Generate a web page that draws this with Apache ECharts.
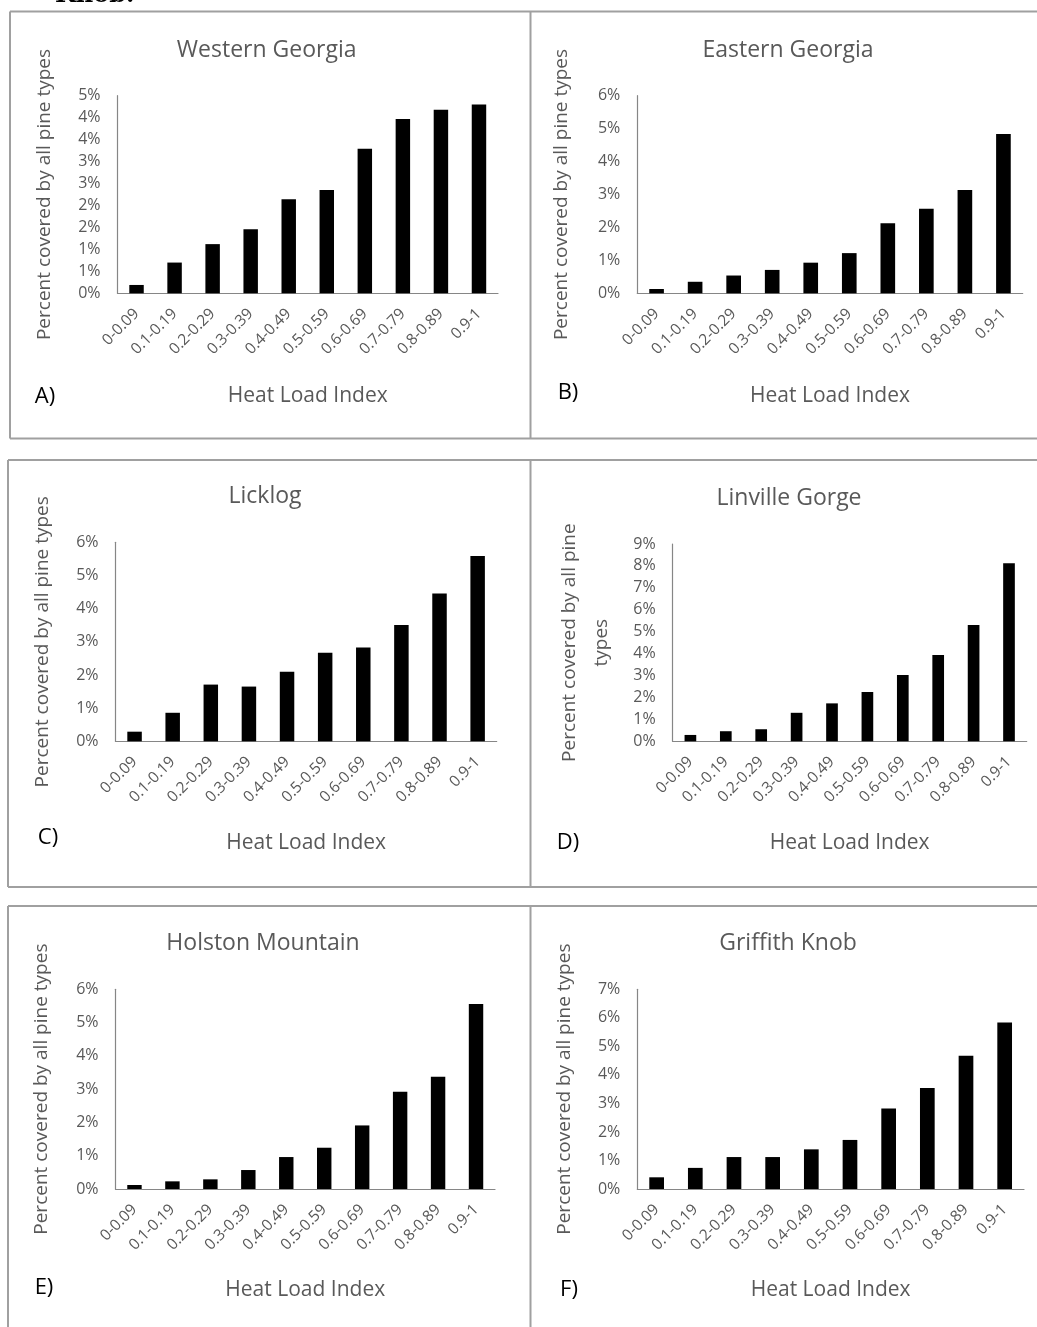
<!DOCTYPE html>
<html>
<head>
<meta charset="utf-8">
<script src="https://cdn.jsdelivr.net/npm/echarts@6/dist/echarts.min.js"></script>
<style>
html,body{margin:0;padding:0;background:#fff;}
#chart{width:1037px;height:1327px;}
</style>
</head>
<body>
<div id="chart"></div>
<script>
// ---- data ----
const categories = ['0-0.09','0.1-0.19','0.2-0.29','0.3-0.39','0.4-0.49','0.5-0.59','0.6-0.69','0.7-0.79','0.8-0.89','0.9-1'];
const westernGeorgia  = [0.19, 0.70, 1.12, 1.46, 2.14, 2.35, 3.29, 3.97, 4.18, 4.30];
const easternGeorgia  = [0.13, 0.35, 0.54, 0.71, 0.93, 1.22, 2.13, 2.57, 3.14, 4.84];
const licklog         = [0.29, 0.86, 1.71, 1.65, 2.10, 2.67, 2.83, 3.51, 4.46, 5.59];
const linvilleGorge   = [0.29, 0.46, 0.55, 1.30, 1.73, 2.25, 3.02, 3.94, 5.30, 8.12];
const holstonMountain = [0.12, 0.23, 0.29, 0.57, 0.96, 1.24, 1.91, 2.92, 3.37, 5.56];
const griffithKnob    = [0.41, 0.74, 1.12, 1.12, 1.39, 1.72, 2.82, 3.54, 4.67, 5.84];
const panelTitles  = ['Western Georgia','Eastern Georgia','Licklog','Linville Gorge','Holston Mountain','Griffith Knob'];
const panelLetters = ['A)','B)','C)','D)','E)','F)'];
const yNames = ['Percent covered by all pine types','Percent covered by all pine types','Percent covered by all pine types',
                'Percent covered by all pine\ntypes','Percent covered by all pine types','Percent covered by all pine types'];
const xName = 'Heat Load Index';
const yMaxes    = [4.5, 6, 6, 9, 6, 7];
const yIntervals = [0.5, 1, 1, 1, 1, 1];
const seriesData = [westernGeorgia, easternGeorgia, licklog, linvilleGorge, holstonMountain, griffithKnob];

// ---- layout ----
const grids = [
  {left:117.5, top:95.7,  width:380.5, height:197.6},
  {left:637.3, top:95.7,  width:385.4, height:197.6},
  {left:115.5, top:542.3, width:381.2, height:199},
  {left:672.7, top:544,   width:354,   height:197.3},
  {left:115.5, top:989.3, width:379.5, height:199.7},
  {left:637.3, top:989.3, width:386.7, height:199.7}
];
const titlePos  = [[266.7,50],[788,50],[265,496.7],[789,498],[263,943],[788,943]];
const letterPos = [[45,397],[568,393],[48,838],[568,843],[44,1288],[569,1290]];
const yNameGap  = [72.5, 75.6, 72.5, 87, 73.8, 72.3];
const xNameGap  = [103, 103, 102, 102, 101, 101];
const barW      = ['38%','38%','38%','33%','38%','38%'];

const FONT = 'Open Sans';
const GREY = '#595959';
const AXIS = '#868686';
const BORDER = '#a0a0a0';

const option = {
  animation: false,
  backgroundColor: '#fff',
  textStyle: {fontFamily: FONT},
  grid: grids.map(g => Object.assign({containLabel:false}, g)),
  xAxis: grids.map((g,i) => ({
    type:'category', gridIndex:i, data:categories,
    axisLine:{show:true, lineStyle:{color:AXIS, width:1.2}},
    axisTick:{show:false},
    axisLabel:{interval:0, rotate:45, color:GREY, fontSize:15.5, fontFamily:FONT, margin:18},
    name:xName, nameLocation:'middle', nameGap:xNameGap[i],
    nameTextStyle:{color:GREY, fontSize:21, fontFamily:FONT, verticalAlign:'middle'}
  })),
  yAxis: grids.map((g,i) => ({
    type:'value', gridIndex:i, min:0, max:yMaxes[i], interval:yIntervals[i],
    axisLine:{show:true, lineStyle:{color:AXIS, width:1.2}},
    axisTick:{show:false},
    splitLine:{show:false},
    axisLabel:{color:GREY, fontSize:16, fontFamily:FONT, margin:17,
      formatter: v => Math.round(Math.round(v*1000)/1000) + '%'},
    name:yNames[i], nameLocation:'middle', nameGap:yNameGap[i], nameRotate:90,
    nameTextStyle:{color:GREY, fontSize:19, fontFamily:FONT, verticalAlign:'middle', align:'center', lineHeight:32}
  })),
  series: seriesData.map((d,i) => ({
    type:'bar', xAxisIndex:i, yAxisIndex:i, data:d, barWidth:barW[i],
    itemStyle:{color:'#000'}
  })),
  graphic: [].concat(
    [
      {type:'line', shape:{x1:10,y1:11.5,x2:1037,y2:11.5}, style:{stroke:BORDER,lineWidth:2}},
      {type:'line', shape:{x1:10,y1:11.5,x2:10,y2:438.5}, style:{stroke:BORDER,lineWidth:2}},
      {type:'line', shape:{x1:10,y1:438.5,x2:1037,y2:438.5}, style:{stroke:BORDER,lineWidth:2}},
      {type:'line', shape:{x1:530.5,y1:11.5,x2:530.5,y2:438.5}, style:{stroke:BORDER,lineWidth:2}},
      {type:'line', shape:{x1:8,y1:460,x2:1037,y2:460}, style:{stroke:BORDER,lineWidth:2}},
      {type:'line', shape:{x1:8,y1:460,x2:8,y2:887}, style:{stroke:BORDER,lineWidth:2}},
      {type:'line', shape:{x1:8,y1:887,x2:1037,y2:887}, style:{stroke:BORDER,lineWidth:2}},
      {type:'line', shape:{x1:530.5,y1:460,x2:530.5,y2:887}, style:{stroke:BORDER,lineWidth:2}},
      {type:'line', shape:{x1:8,y1:906,x2:1037,y2:906}, style:{stroke:BORDER,lineWidth:2}},
      {type:'line', shape:{x1:8,y1:906,x2:8,y2:1327}, style:{stroke:BORDER,lineWidth:2}},
      {type:'line', shape:{x1:530.5,y1:906,x2:530.5,y2:1327}, style:{stroke:BORDER,lineWidth:2}},
      {type:'text', x:55, y:8, style:{text:'Knob.', fill:'#000', font:'bold 24px "DejaVu Serif"', verticalAlign:'bottom'}}
    ],
    panelTitles.map((t,i) => ({type:'text', x:titlePos[i][0], y:titlePos[i][1],
      style:{text:t, fill:GREY, font:'23px "'+FONT+'"', align:'center', verticalAlign:'middle'}})),
    panelLetters.map((t,i) => ({type:'text', x:letterPos[i][0], y:letterPos[i][1],
      style:{text:t, fill:'#000', font:'22px "'+FONT+'"', align:'center', verticalAlign:'middle'}}))
  )
};

const chart = echarts.init(document.getElementById('chart'), null, {renderer:'canvas'});
chart.setOption(option);
</script>
</body>
</html>
